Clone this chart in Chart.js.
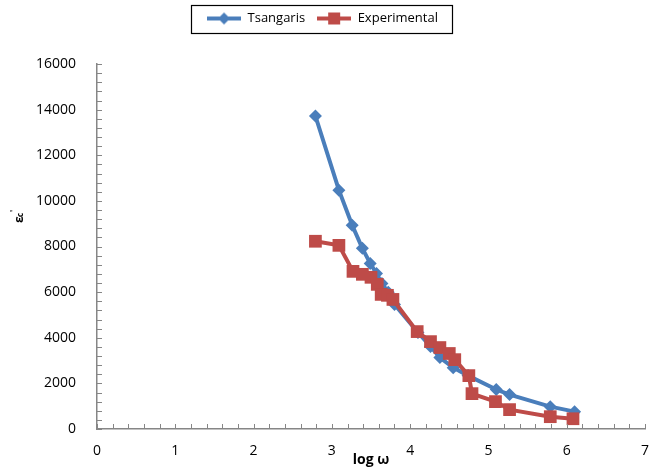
<!DOCTYPE html>
<html>
<head>
<meta charset="utf-8">
<script src="https://cdn.jsdelivr.net/npm/chart.js@4.4.0/dist/chart.umd.min.js"></script>
<style>
  html, body { margin: 0; padding: 0; background: #fff; }
  #wrap { width: 656px; height: 468px; }
</style>
</head>
<body>
<div id="wrap"><canvas id="epsChart"></canvas></div>
<script>
// values
const tsangarisX = [2.79, 3.09, 3.26, 3.39, 3.49, 3.57, 3.64, 3.72, 3.80, 4.10, 4.26, 4.38, 4.55, 4.74, 5.10, 5.27, 5.79, 6.10];
const tsangarisY = [13720, 10470, 8930, 7920, 7260, 6820, 6380, 5990, 5460, 4230, 3620, 3130, 2690, 2340, 1730, 1510, 980, 760];

const experimentalX = [2.79, 3.09, 3.27, 3.39, 3.50, 3.58, 3.63, 3.71, 3.78, 4.09, 4.26, 4.38, 4.50, 4.57, 4.75, 4.79, 5.09, 5.27, 5.79, 6.08];
const experimentalY = [8230, 8050, 6910, 6780, 6650, 6340, 5900, 5860, 5680, 4270, 3830, 3570, 3310, 3040, 2340, 1550, 1200, 850, 540, 450];

const xRange = [0, 7];
const yRange = [0, 16000];
const xMajorStep = 1;
const yMajorStep = 2000;
const xMinorStep = 0.2;
const yMinorStep = 400;

const BLUE = "#4a7ebb";
const RED = "#be4b48";
const AXIS = "#868686";
const FONT = "'Open Sans', sans-serif";

function toPoints(xs, ys) {
  return xs.map((x, i) => ({ x, y: ys[i] }));
}

// little line+marker picture for the legend
function legendSwatch(color, shape) {
  const c = document.createElement("canvas");
  c.width = 34;
  c.height = 14;
  const g = c.getContext("2d");
  g.strokeStyle = color;
  g.lineWidth = 4;
  g.beginPath();
  g.moveTo(0, 7);
  g.lineTo(34, 7);
  g.stroke();
  g.fillStyle = color;
  g.beginPath();
  if (shape === "diamond") {
    g.moveTo(17, 1); g.lineTo(23, 7); g.lineTo(17, 13); g.lineTo(11, 7);
  } else {
    g.rect(11, 1, 12, 12);
  }
  g.closePath();
  g.fill();
  return c;
}

// inward minor/major tick marks, legend frame and y title
const decorPlugin = {
  id: "decor",
  beforeInit(chart) {
    // leave extra room under the legend so the plot starts lower
    const legend = chart.legend;
    if (legend && !legend._padded) {
      const fit = legend.fit;
      legend.fit = function () {
        fit.call(this);
        this.height += 29;
      };
      legend._padded = true;
    }
  },
  afterDraw(chart) {
    const ctx = chart.ctx;
    const xs = chart.scales.x;
    const ys = chart.scales.y;
    const area = chart.chartArea;
    ctx.save();
    ctx.strokeStyle = AXIS;
    ctx.lineWidth = 1;
    ctx.beginPath();
    for (let v = xRange[0]; v <= xRange[1] + 1e-9; v += xMinorStep) {
      const px = Math.round(xs.getPixelForValue(v)) + 0.5;
      ctx.moveTo(px, area.bottom);
      ctx.lineTo(px, area.bottom - 5);
    }
    for (let v = yRange[0]; v <= yRange[1] + 1e-9; v += yMinorStep) {
      const py = Math.round(ys.getPixelForValue(v)) + 0.5;
      ctx.moveTo(area.left, py);
      ctx.lineTo(area.left + 5, py);
    }
    ctx.stroke();

    // frame around the legend items
    const boxes = chart.legend.legendHitBoxes;
    if (boxes && boxes.length) {
      const left = Math.min(...boxes.map(b => b.left)) - 16;
      const right = Math.max(...boxes.map(b => b.left + b.width)) + 14;
      const top = Math.min(...boxes.map(b => b.top)) - 7;
      const bottom = Math.max(...boxes.map(b => b.top + b.height)) + 8;
      ctx.strokeStyle = "#000";
      ctx.lineWidth = 1.2;
      ctx.strokeRect(Math.round(left) + 0.5, Math.round(top) + 0.5, Math.round(right - left), Math.round(bottom - top));
    }

    // y title: epsilon, subscript c, prime
    ctx.fillStyle = "#000";
    ctx.translate(20, 223);
    ctx.rotate(-Math.PI / 2);
    ctx.font = "bold 12px " + FONT;
    ctx.fillText("ε", 0, 0);
    ctx.font = "bold 8px " + FONT;
    ctx.fillText("c", 6, 1);
    ctx.fillText("'", 11, -6);
    ctx.restore();
  }
};

const ctx = document.getElementById("epsChart").getContext("2d");

new Chart(ctx, {
  type: "scatter",
  data: {
    datasets: [
      {
        label: "Tsangaris",
        data: toPoints(tsangarisX, tsangarisY),
        showLine: true,
        borderColor: BLUE,
        backgroundColor: BLUE,
        borderWidth: 4,
        pointStyle: "rectRot",
        pointRadius: 6.5,
        pointBorderWidth: 0,
        order: 2
      },
      {
        label: "Experimental",
        data: toPoints(experimentalX, experimentalY),
        showLine: true,
        borderColor: RED,
        backgroundColor: RED,
        borderWidth: 4,
        pointStyle: "rect",
        pointRadius: 9,
        pointBorderWidth: 0,
        order: 1
      }
    ]
  },
  options: {
    responsive: true,
    maintainAspectRatio: false,
    animation: false,
    layout: {
      padding: { left: 0, right: 11, top: 0, bottom: 0 }
    },
    plugins: {
      tooltip: { enabled: false },
      legend: {
        display: true,
        position: "top",
        labels: {
          color: "#000",
          font: { family: FONT, size: 13 },
          usePointStyle: true,
          pointStyleWidth: 34,
          boxHeight: 14,
          padding: 12,
          generateLabels: () => [
            { text: "Tsangaris", pointStyle: legendSwatch(BLUE, "diamond"), fillStyle: BLUE, strokeStyle: BLUE, lineWidth: 0, datasetIndex: 0 },
            { text: "Experimental", pointStyle: legendSwatch(RED, "square"), fillStyle: RED, strokeStyle: RED, lineWidth: 0, datasetIndex: 1 }
          ]
        }
      }
    },
    scales: {
      x: {
        type: "linear",
        min: xRange[0],
        max: xRange[1],
        ticks: {
          stepSize: xMajorStep,
          color: "#000",
          font: { family: FONT, size: 14 },
          padding: 6
        },
        grid: { display: false },
        border: { display: true, color: AXIS, width: 1.5 },
        title: {
          display: true,
          text: "log ω",
          color: "#000",
          font: { family: FONT, size: 14, weight: "bold" },
          padding: { top: -4, bottom: 0 }
        },
        afterFit(scale) {
          scale.height = 39;
        }
      },
      y: {
        type: "linear",
        min: yRange[0],
        max: yRange[1],
        ticks: {
          stepSize: yMajorStep,
          color: "#000",
          font: { family: FONT, size: 14 },
          padding: 13,
          callback: value => String(value)
        },
        grid: { display: false },
        border: { display: true, color: AXIS, width: 1.5 },
        afterFit(scale) {
          scale.width = 97;
        }
      }
    }
  },
  plugins: [decorPlugin]
});
</script>
</body>
</html>
